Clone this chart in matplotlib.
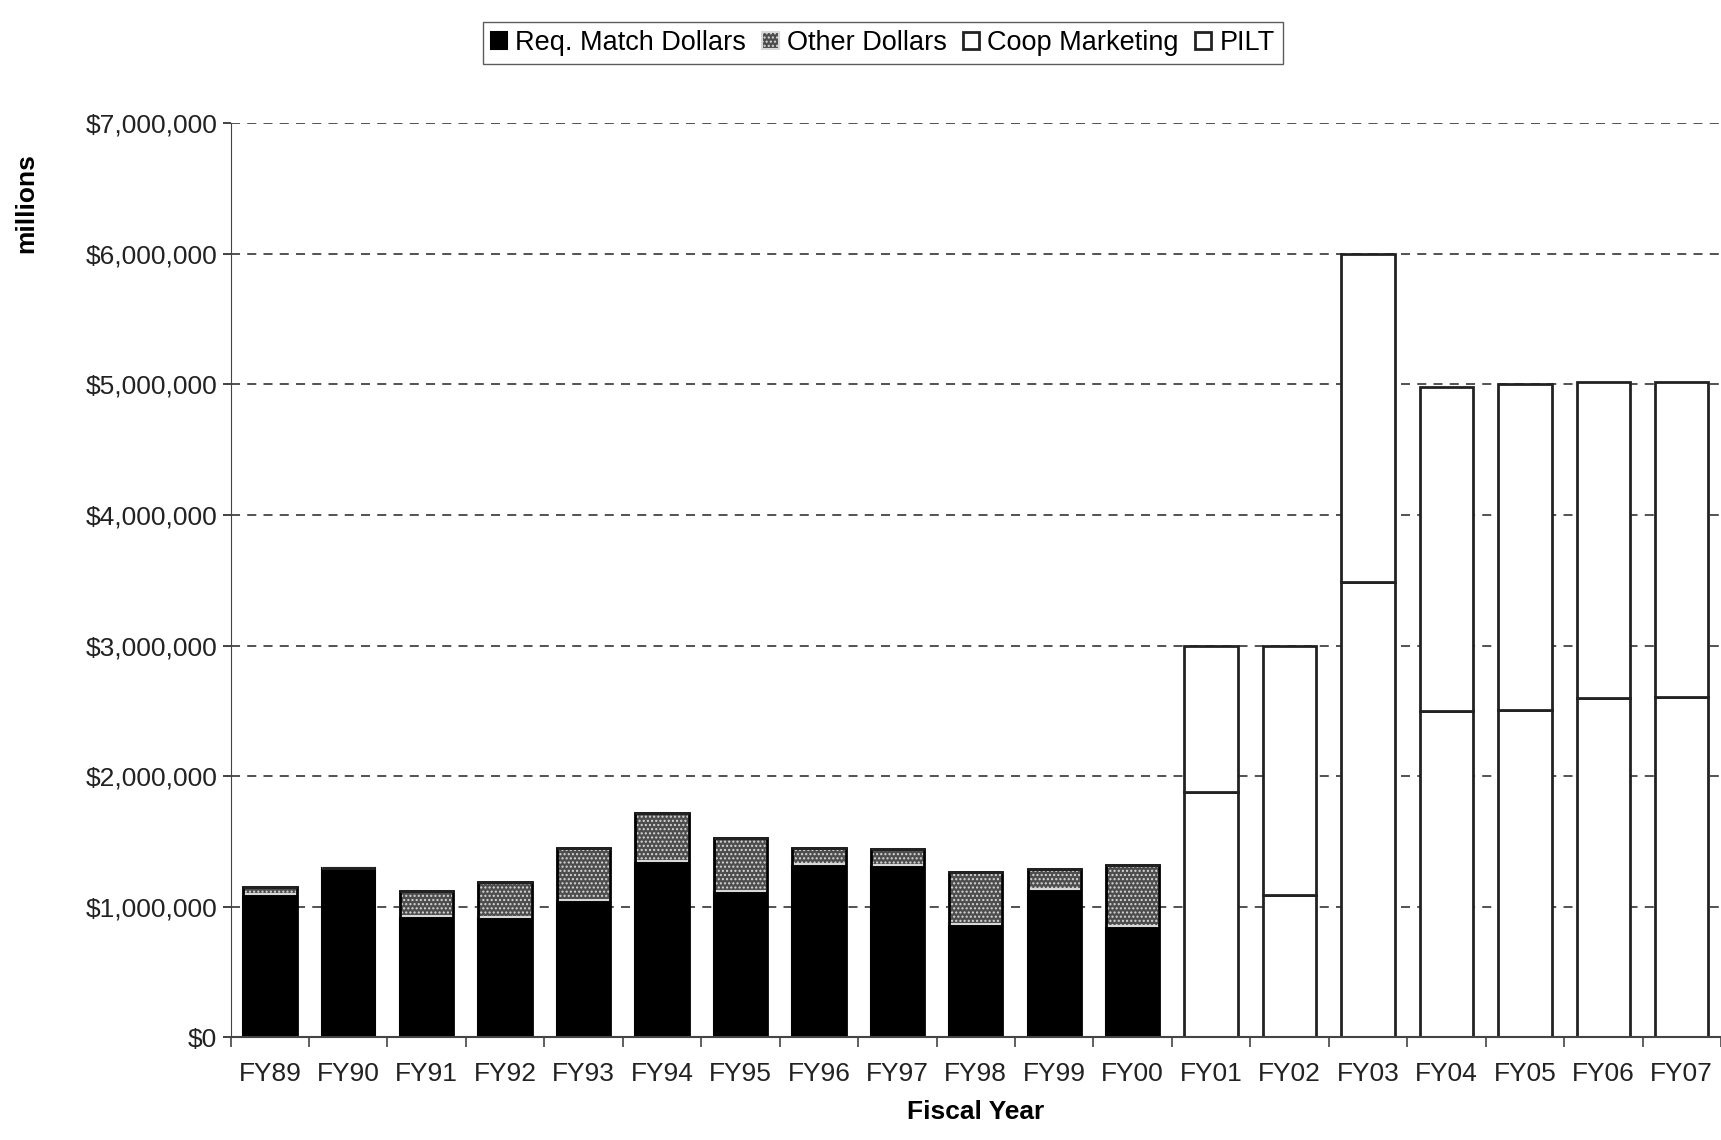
import matplotlib.pyplot as plt
import numpy as np
from matplotlib.ticker import FuncFormatter

plt.rcParams['font.family'] = ['Liberation Sans', 'DejaVu Sans']

years = ['FY89', 'FY90', 'FY91', 'FY92', 'FY93', 'FY94', 'FY95', 'FY96', 'FY97', 'FY98',
         'FY99', 'FY00', 'FY01', 'FY02', 'FY03', 'FY04', 'FY05', 'FY06', 'FY07']
req_match = [1100000, 1300000, 930000, 920000, 1050000, 1350000, 1120000, 1330000, 1320000,
             870000, 1140000, 850000, 0, 0, 0, 0, 0, 0, 0]
other = [50000, 0, 190000, 270000, 400000, 370000, 410000, 120000, 120000,
         400000, 150000, 470000, 0, 0, 0, 0, 0, 0, 0]
coop = [0, 0, 0, 0, 0, 0, 0, 0, 0, 0, 0, 0,
        1880000, 1090000, 3490000, 2500000, 2510000, 2600000, 2610000]
pilt = [0, 0, 0, 0, 0, 0, 0, 0, 0, 0, 0, 0,
        1120000, 1910000, 2510000, 2480000, 2490000, 2420000, 2410000]

x = np.arange(len(years))
w = 0.68

fig = plt.figure(figsize=(17.21, 11.40), dpi=100)
ax = fig.add_axes([0.134, 0.09, 0.866, 0.802])

b1 = ax.bar(x, req_match, w, color='black', edgecolor='black', lw=1.5,
            label='Req. Match Dollars')
bot = np.array(req_match)
b2 = ax.bar(x, other, w, bottom=bot, color='#4d4d4d', edgecolor='#d8d8d8', lw=1.5,
            hatch='....', label='Other Dollars')
# outline the other segments in black again
for xi, r, o in zip(x, req_match, other):
    if o > 0:
        ax.bar(xi, o + r, w, color='none', edgecolor='black', lw=2)
bot = bot + np.array(other)
b3 = ax.bar(x, coop, w, bottom=bot, color='white', edgecolor='#222222', lw=2,
            label='Coop Marketing')
bot = bot + np.array(coop)
b4 = ax.bar(x, pilt, w, bottom=bot, color='white', edgecolor='#222222', lw=2,
            label='PILT')

ax.set_xlim(-0.5, len(years) - 0.5)
ax.set_ylim(0, 7000000)
ax.set_yticks(np.arange(0, 7000001, 1000000))
ax.yaxis.set_major_formatter(FuncFormatter(lambda v, p: '${:,.0f}'.format(v)))
ax.yaxis.grid(True, ls=(0, (5, 4)), color='#444444', lw=1.3)
ax.set_axisbelow(True)
ax.set_xticks(x)
ax.set_xticklabels(years)
ax.set_xticks(np.arange(-0.5, len(years), 1), minor=True)
ax.tick_params(axis='x', which='major', length=0, labelsize=19, pad=18, colors='#222222')
ax.tick_params(axis='x', which='minor', length=7, width=1.2, direction='out', color='#444444')
ax.tick_params(axis='y', length=6, width=1.2, labelsize=19, colors='#222222')
for s in ['top', 'right']:
    ax.spines[s].set_visible(False)
ax.spines['left'].set_color('#444444')
ax.spines['bottom'].set_color('#444444')
ax.spines['bottom'].set_linewidth(1.5)

ax.set_xlabel('Fiscal Year', fontsize=19, fontweight='bold', labelpad=10)
fig.text(0.008, 0.822, 'millions', rotation=90, fontsize=19, fontweight='bold',
         ha='left', va='center')

leg = fig.legend(handles=[b1, b2, b3, b4], loc='upper center', bbox_to_anchor=(0.513, 0.993),
                 ncol=4, fontsize=19.5, frameon=True, fancybox=False, edgecolor='#333333',
                 handlelength=0.6, handleheight=0.6, handletextpad=0.3, columnspacing=0.6,
                 borderpad=0.3)

fig.savefig('out.png', dpi=100)
